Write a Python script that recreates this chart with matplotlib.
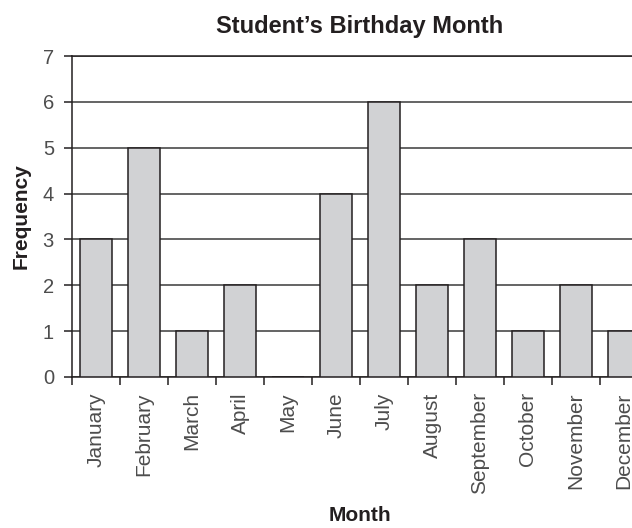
import matplotlib
matplotlib.use("Agg")
import matplotlib.pyplot as plt
import numpy as np

months = ["January", "February", "March", "April", "May", "June", "July",
          "August", "September", "October", "November", "December"]
frequency = [3, 5, 1, 2, 0, 4, 6, 2, 3, 1, 2, 1]
y_ticks = [0, 1, 2, 3, 4, 5, 6, 7]

plt.rcParams['font.family'] = ['Liberation Sans', 'DejaVu Sans']

W, H = 632, 528
fig = plt.figure(figsize=(W / 100, H / 100), dpi=100)
ax = fig.add_axes([72 / W, (H - 377) / H, 576 / W, (377 - 56) / H])

x = np.arange(1, len(months) + 1)
ax.bar(x, frequency, width=0.67, color="#d1d2d4", edgecolor="#231f20",
       linewidth=1.1, zorder=3)

ax.set_xlim(0.5, len(months) + 0.5)
ax.set_ylim(0, 7)
ax.set_yticks(y_ticks)
ax.yaxis.grid(True, color="#3a3a3a", linewidth=1.1, zorder=0)
ax.set_axisbelow(True)

# boundary ticks (major) without labels, centered labels (minor)
ax.set_xticks(np.arange(0.5, len(months) + 1, 1.0))
ax.set_xticklabels([])
ax.set_xticks(x, minor=True)
ax.set_xticklabels(months, minor=True, rotation=90, fontsize=15,
                   color="#4d4d4d", va="top", ha="center")
ax.tick_params(axis="x", which="major", length=6, width=1.1,
               color="#231f20", direction="out")
ax.tick_params(axis="x", which="minor", length=0, pad=11)
ax.tick_params(axis="y", length=6, width=1.1, color="#231f20",
               labelsize=14.5, labelcolor="#4d4d4d", pad=7)

for s in ["left", "bottom", "top"]:
    ax.spines[s].set_color("#231f20")
    ax.spines[s].set_linewidth(1.1)
ax.spines["right"].set_visible(False)

ax.set_title("Student\u2019s Birthday Month", fontsize=17, fontweight="bold",
             color="#231f20", pad=16.5)
ax.set_xlabel("Month", fontsize=15, fontweight="bold", color="#231f20",
              labelpad=8)
ax.set_ylabel("Frequency", fontsize=15, fontweight="bold", color="#231f20",
              labelpad=9)

fig.savefig("out.png", dpi=100)
